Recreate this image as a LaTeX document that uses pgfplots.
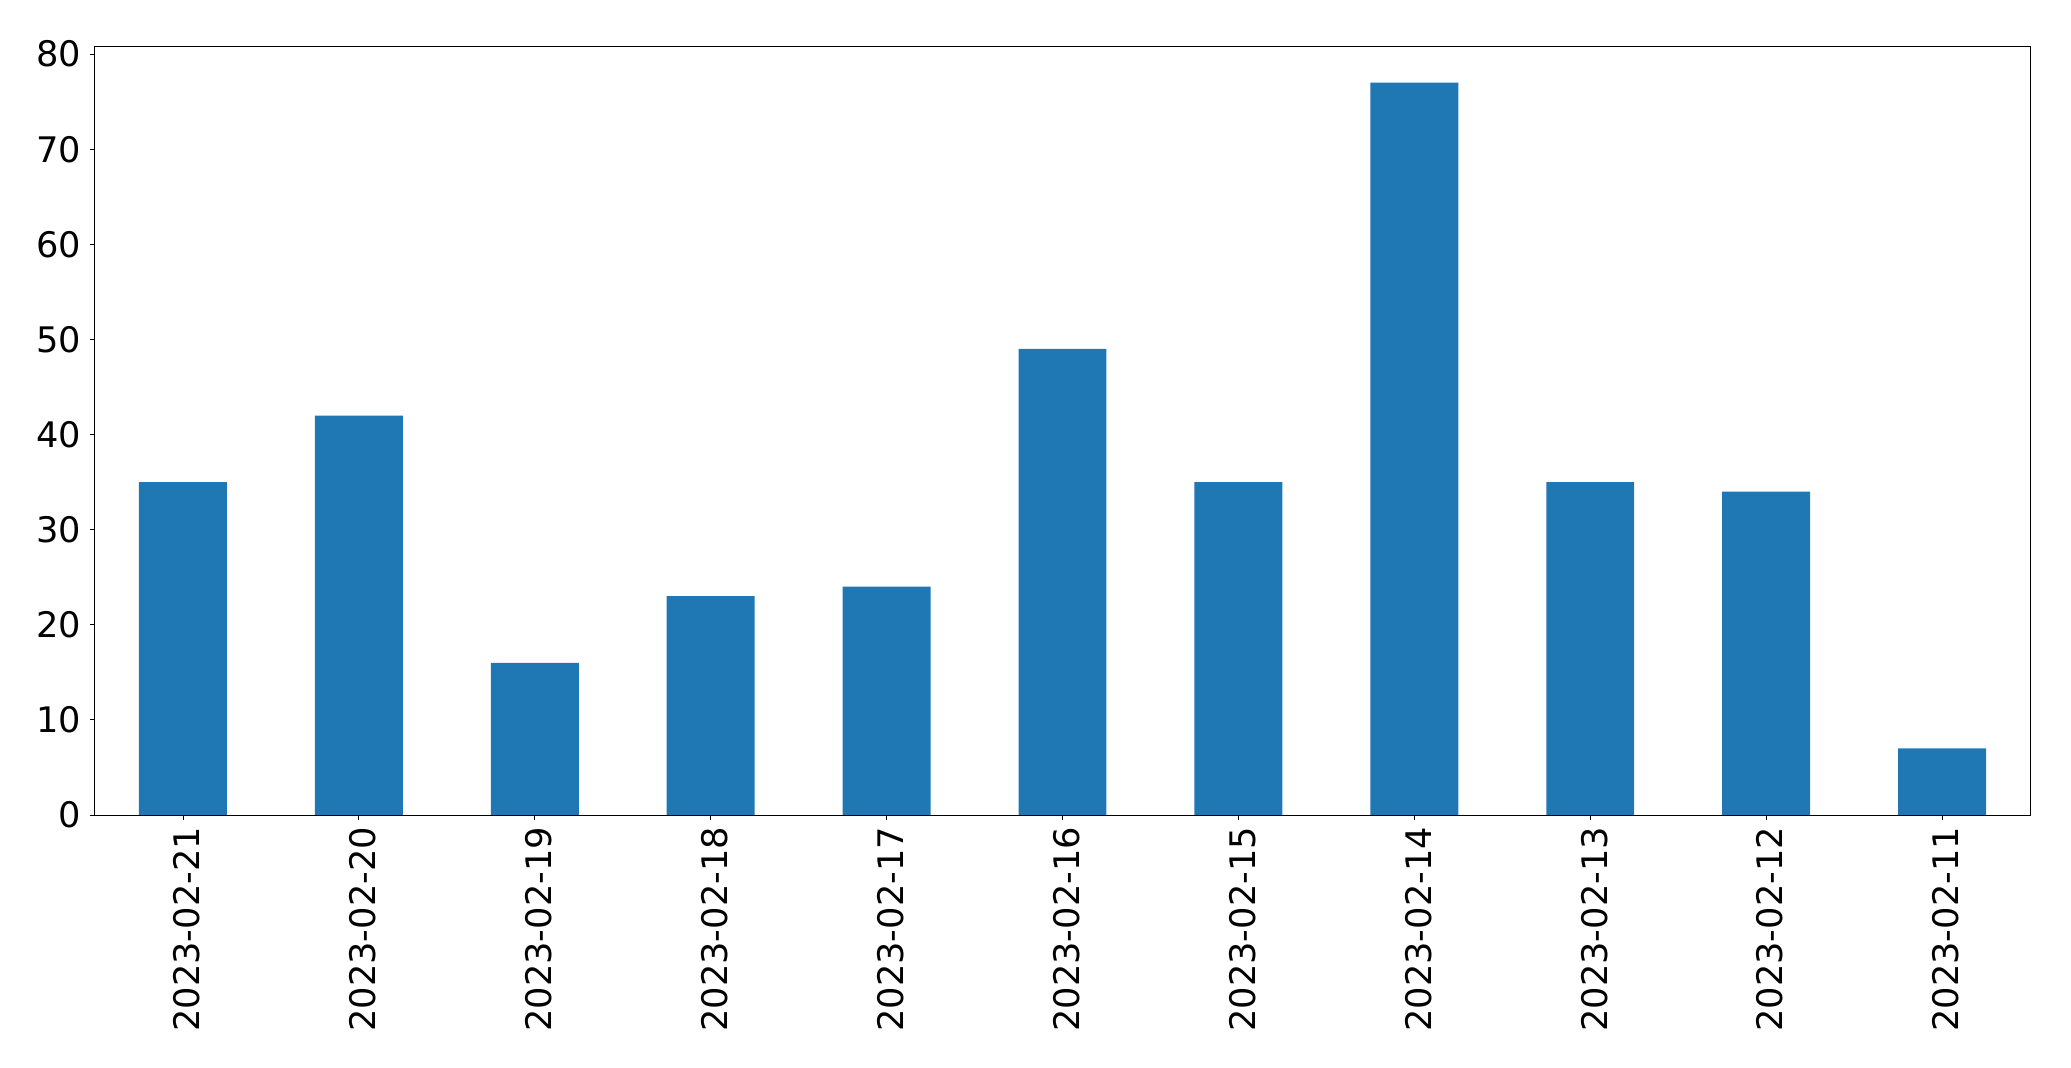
\documentclass[border=0pt]{standalone}
\usepackage{pgfplots}
\pgfplotsset{compat=1.18}
\usepackage{fontspec}
\setmainfont{DejaVu Sans}
\definecolor{barblue}{HTML}{1F77B4}
\begin{document}
\begin{tikzpicture}[x=0.5pt,y=0.5pt]
\begin{axis}[
  name=main,
  scale only axis,
  width=967.5pt, height=384.5pt,
  xmin=-0.5, xmax=10.5,
  ymin=0, ymax=80.85,
  xtick={0,...,10},
  xticklabels={2023-02-21,2023-02-20,2023-02-19,2023-02-18,2023-02-17,2023-02-16,2023-02-15,2023-02-14,2023-02-13,2023-02-12,2023-02-11},
  x tick label style={rotate=90, anchor=east, font=\fontsize{17.6}{20}\selectfont},
  y tick label style={font=\fontsize{17.6}{20}\selectfont},
  ytick={0,10,...,80},
  /pgf/number format/assume math mode=true,
  tick align=outside,
  major tick length=2.5pt,
  tick style={black, line width=0.4pt},
  xtick pos=bottom, ytick pos=left,
  axis line style={black, line width=0.5pt},
  axis on top,
  xticklabel style={yshift=-2pt},
  yticklabel style={xshift=-1pt},
]
\addplot[ybar, bar width=0.5, bar shift=0pt, fill=barblue, draw=none] coordinates {
(0,35) (1,42) (2,16) (3,23) (4,24) (5,49) (6,35) (7,77) (8,35) (9,34) (10,7)
};
\end{axis}
\pgfresetboundingbox
\path[use as bounding box] ([xshift=-47.5pt,yshift=-126pt]main.south west) rectangle ([xshift=20.5pt,yshift=23pt]main.north east);
\end{tikzpicture}
\end{document}
